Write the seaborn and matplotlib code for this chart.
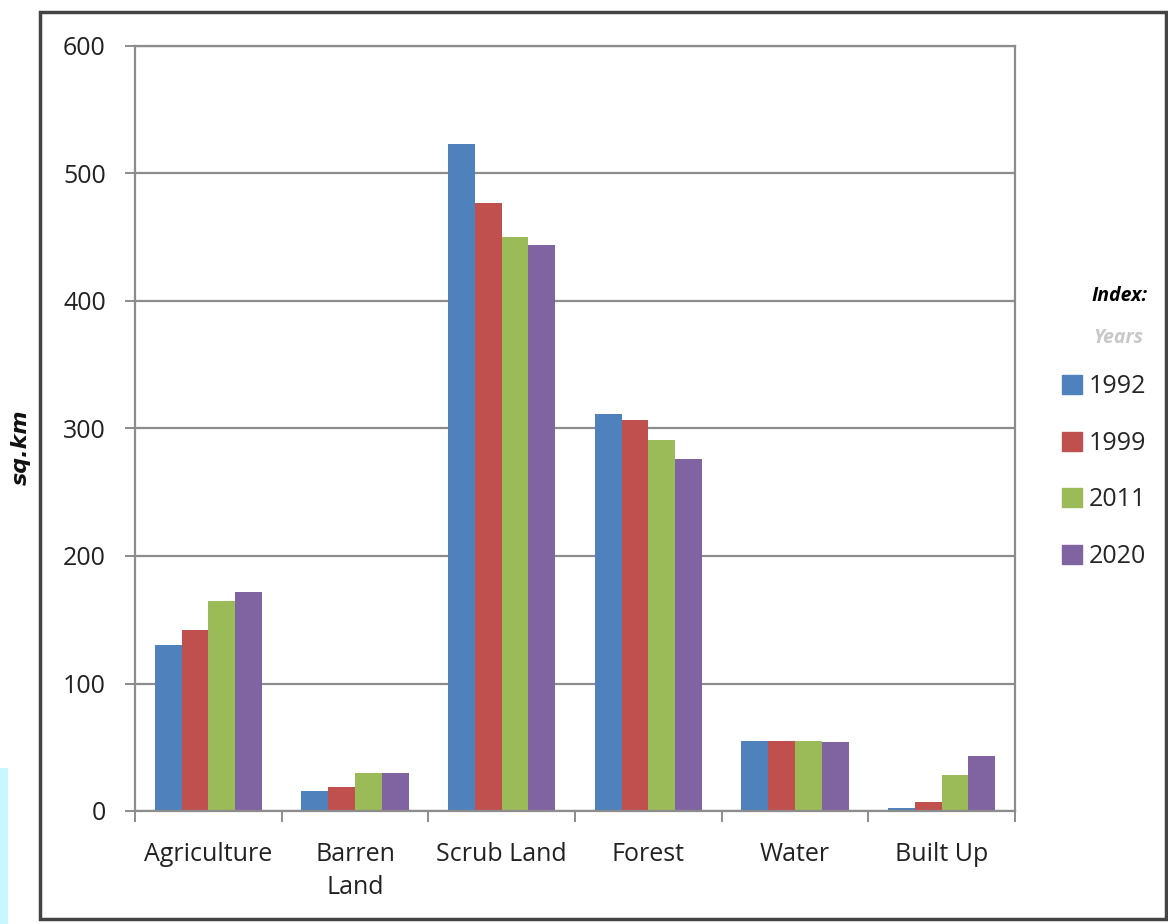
import numpy as np
import pandas as pd
import matplotlib
matplotlib.use("Agg")
import matplotlib.pyplot as plt
import seaborn as sns
from matplotlib.patches import Rectangle

categories = ["Agriculture", "Barren\nLand", "Scrub Land", "Forest", "Water", "Built Up"]
years = ["1992", "1999", "2011", "2020"]
v1992 = [130, 16, 523, 311, 55, 2]
v1999 = [142, 19, 477, 307, 55, 7]
v2011 = [165, 30, 450, 291, 55, 28]
v2020 = [172, 30, 444, 276, 54, 43]
colors = ["#4F81BD", "#C0504D", "#9BBB59", "#8064A2"]

rows = []
for yr, vals in zip(years, [v1992, v1999, v2011, v2020]):
    for c, v in zip(categories, vals):
        rows.append({"Category": c, "Year": yr, "Value": v})
df = pd.DataFrame(rows)

sns.set_style("white")
plt.rcParams['font.family'] = ['Open Sans', 'DejaVu Sans']

fig = plt.figure(figsize=(11.68, 9.24), dpi=100)
ax = fig.add_axes([135/1168, 1 - 811/924, (1015-135)/1168, (811-46)/924])

sns.barplot(data=df, x="Category", y="Value", hue="Year", palette=colors,
            width=0.73, saturation=1, ax=ax, legend=False, edgecolor="none")

ax.set_ylim(0, 600)
ax.set_xlim(-0.5, len(categories) - 0.5)
ax.set_yticks([0, 100, 200, 300, 400, 500, 600])
ax.yaxis.grid(True, color="#8c8c8c", linewidth=1.6)
ax.set_axisbelow(True)
for s in ax.spines.values():
    s.set_color("#8c8c8c")
    s.set_linewidth(1.6)
ax.set_xlabel("")
ax.set_ylabel("sq.km", fontsize=16, fontweight="bold", fontstyle="italic",
              family=["DejaVu Sans"], color="#111111")
ax.yaxis.set_label_coords((31 - 135) / 880, (811 - 447) / 765)
ax.tick_params(axis="y", which="major", length=7, width=1.4, color="#8c8c8c",
               labelsize=18, pad=14, left=True, labelcolor="#222222")
ax.tick_params(axis="x", which="major", length=0, labelsize=18, pad=22, labelcolor="#222222")
for lbl in ax.get_xticklabels():
    lbl.set_linespacing(1.45)
ax.set_xticks(np.arange(-0.5, len(categories), 1.0), minor=True)
ax.tick_params(axis="x", which="minor", length=8, width=1.4, color="#8c8c8c", bottom=True)

# legend-like index block at right
fig.text(1148/1168, 1 - 296/924, "Index:", ha="right", va="center", fontsize=14,
         fontweight="bold", fontstyle="italic", color="black")
fig.text(1143/1168, 1 - 338/924, "Years", ha="right", va="center", fontsize=14,
         fontweight="bold", fontstyle="italic", color="#c8c8c8")
handles = [Rectangle((0, 0), 1, 1, color=c) for c in colors]
fig.legend(handles, years, loc="upper left", bbox_to_anchor=(1062/1168, 1 - 374/924),
           frameon=False, fontsize=18, handlelength=0.8, handleheight=0.8,
           handletextpad=0.25, labelspacing=1.27, borderpad=0, borderaxespad=0)

# outer frame
fig.patches.append(Rectangle((40/1168, 1 - 919/924), (1166-40)/1168, (919-12)/924,
                             transform=fig.transFigure, fill=False,
                             edgecolor="#444444", linewidth=2.5))
# cyan strip at bottom-left
fig.patches.append(Rectangle((0, 0), 8/1168, (924-768)/924, transform=fig.transFigure,
                             facecolor="#c8f8ff", edgecolor="none"))

fig.savefig("out.png", dpi=100)
